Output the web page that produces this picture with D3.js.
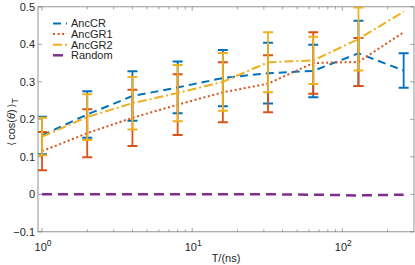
<!DOCTYPE html>
<html><head><meta charset="utf-8">
<script src="https://cdn.jsdelivr.net/npm/d3@7"></script>
<style>body{margin:0;background:#fff}svg{display:block}text{font-family:"Liberation Sans",Arial,sans-serif;fill:#262626}</style>
</head><body><div id="chart"></div>
<script>
const T = [1, 2, 4, 8, 16, 32, 64, 128, 256];
const ancCR     = [0.157, 0.213, 0.262, 0.285, 0.310, 0.323, 0.329, 0.376, 0.330];
const ancCRerr  = [0.050, 0.062, 0.066, 0.069, 0.075, 0.081, 0.070, 0.087, 0.046];
const ancGR1    = [0.115, 0.163, 0.204, 0.239, 0.272, 0.295, 0.350, 0.353, 0.432];
const ancGR1err = [0.051, 0.064, 0.075, 0.081, 0.080, 0.076, 0.082, 0.064, null];
const ancGR2    = [0.154, 0.206, 0.243, 0.270, 0.300, 0.352, 0.357, 0.414, 0.487];
const ancGR2err = [0.050, 0.061, 0.070, 0.075, 0.077, 0.080, 0.063, 0.084, null];
const random    = [0, 0, 0, 0, 0, 0, -0.001, -0.003, -0.001];
const yTicks = [-0.1, 0, 0.1, 0.2, 0.3, 0.4, 0.5];
const xMajor = [1, 10, 100];
const xMajorExp = ["0", "1", "2"];

const series = [
  {name: "AncCR",  vals: ancCR,  err: ancCRerr,  color: "#0072BD", dash: "8,5", w: 2},
  {name: "AncGR1", vals: ancGR1, err: ancGR1err, color: "#D95319", dash: "2,2.6", w: 2},
  {name: "AncGR2", vals: ancGR2, err: ancGR2err, color: "#EDB120", dash: "9,3,2,3", w: 2},
  {name: "Random", vals: random, err: null,      color: "#7E2F8E", dash: "10,6", w: 2.5}
];

const W = 415, H = 265;
const L = 38, R = 414, TOP = 6.8, BOT = 231.8;
const svg = d3.select("#chart").append("svg").attr("width", W).attr("height", H);
const x = d3.scaleLog().domain([0.94, 300]).range([L, R]);
const y = d3.scaleLinear().domain([-0.1, 0.5]).range([BOT, TOP]);

svg.append("defs").append("clipPath").attr("id", "clip")
  .append("rect").attr("x", L).attr("y", TOP).attr("width", R - L).attr("height", BOT - TOP);

const axisColor = "#7a7a7a";
const minor = [];
[1, 10, 100].forEach(d => { for (let k = 2; k <= 9; k++) { const v = d * k; if (v < 300) minor.push(v); } });
const tg = svg.append("g").attr("stroke", axisColor).attr("stroke-width", 0.7);
xMajor.forEach(v => {
  tg.append("line").attr("x1", x(v)).attr("x2", x(v)).attr("y1", BOT).attr("y2", BOT - 4);
  tg.append("line").attr("x1", x(v)).attr("x2", x(v)).attr("y1", TOP).attr("y2", TOP + 4);
});
minor.forEach(v => {
  tg.append("line").attr("x1", x(v)).attr("x2", x(v)).attr("y1", BOT).attr("y2", BOT - 2.5);
  tg.append("line").attr("x1", x(v)).attr("x2", x(v)).attr("y1", TOP).attr("y2", TOP + 2.5);
});
yTicks.forEach(v => {
  tg.append("line").attr("x1", L).attr("x2", L + 4).attr("y1", y(v)).attr("y2", y(v));
  tg.append("line").attr("x1", R).attr("x2", R - 4).attr("y1", y(v)).attr("y2", y(v));
});
svg.append("rect").attr("x", L).attr("y", TOP).attr("width", R - L).attr("height", BOT - TOP)
  .attr("fill", "none").attr("stroke", axisColor).attr("stroke-width", 0.8);

yTicks.forEach(v => {
  svg.append("text").attr("x", L - 3).attr("y", y(v)).attr("dy", "0.35em")
    .attr("text-anchor", "end").attr("font-size", 11).text(d3.format("")(v));
});
xMajor.forEach((v, i) => {
  const t = svg.append("text").attr("x", x(v) + 1).attr("y", 251)
    .attr("text-anchor", "middle").attr("font-size", 11);
  t.append("tspan").text("10");
  t.append("tspan").attr("dy", -5).attr("font-size", 8.5).text(xMajorExp[i]);
});
svg.append("text").attr("x", 226).attr("y", 262).attr("text-anchor", "middle")
  .attr("font-size", 11).text("T/(ns)");
const yl = svg.append("text").attr("transform", "translate(14.5,122) rotate(-90)")
  .attr("text-anchor", "middle").attr("font-size", 11);
yl.append("tspan").attr("font-family", "DejaVu Sans").attr("font-size", 10).text("\u27E8\u2009");
yl.append("tspan").text("cos(");
yl.append("tspan").attr("font-style", "italic").text("\u03B8");
yl.append("tspan").text(")");
yl.append("tspan").attr("font-family", "DejaVu Sans").attr("font-size", 10).text("\u2009\u27E9");
yl.append("tspan").attr("dy", 3).attr("font-size", 8.5).text("T");

const plot = svg.append("g").attr("clip-path", "url(#clip)");
const line = d3.line().defined(d => d[1] != null).x(d => x(d[0])).y(d => y(d[1]));
series.forEach(s => {
  const g = plot.append("g");
  g.append("path").datum(T.map((t, i) => [t, s.vals[i]])).attr("d", line)
    .attr("fill", "none").attr("stroke", s.color).attr("stroke-width", s.w)
    .attr("stroke-dasharray", s.dash);
  if (s.err) {
    T.forEach((t, i) => {
      const e = s.err[i];
      if (e == null) return;
      const cx = x(t), y1 = y(s.vals[i] + e), y2 = y(s.vals[i] - e);
      g.append("line").attr("x1", cx).attr("x2", cx).attr("y1", y1).attr("y2", y2)
        .attr("stroke", s.color).attr("stroke-width", 1.8);
      [y1, y2].forEach(yy => g.append("line").attr("x1", cx - 5).attr("x2", cx + 5)
        .attr("y1", yy).attr("y2", yy).attr("stroke", s.color).attr("stroke-width", 2));
    });
  }
});

series.forEach((s, i) => {
  const yy = 23.5 + i * 10.6;
  svg.append("line").attr("x1", 53).attr("x2", 67).attr("y1", yy).attr("y2", yy)
    .attr("stroke", s.color).attr("stroke-width", s.w).attr("stroke-dasharray", s.dash);
  svg.append("text").attr("x", 71).attr("y", yy).attr("dy", "0.35em")
    .attr("font-size", 11).text(s.name);
});
</script></body></html>
